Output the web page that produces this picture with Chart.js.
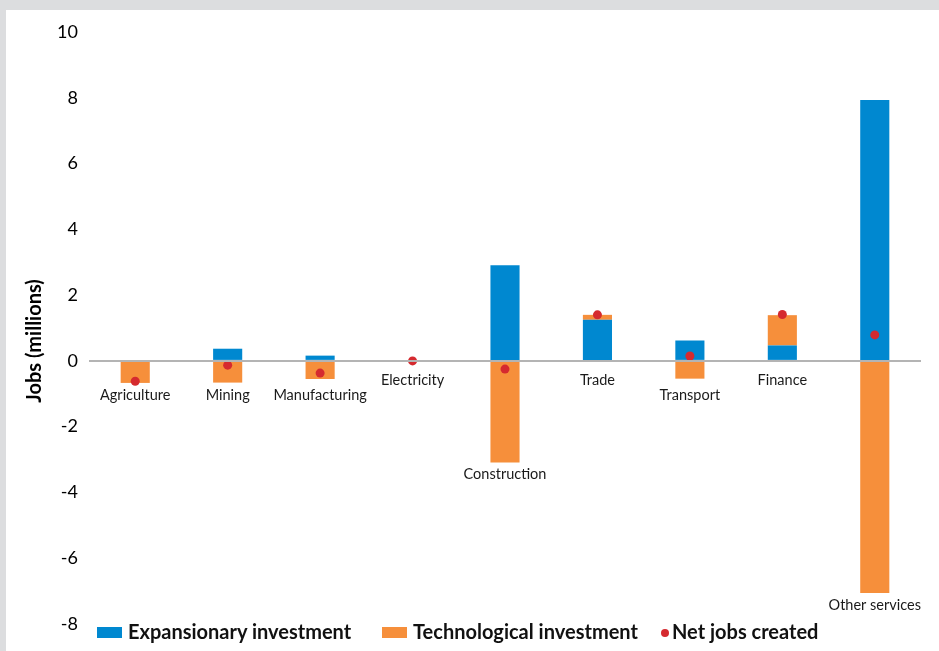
<!DOCTYPE html>
<html><head><meta charset="utf-8">
<script src="https://cdn.jsdelivr.net/npm/chart.js@4"></script>
<style>
html,body{margin:0;padding:0;background:#dcdddf;width:939px;height:651px;overflow:hidden;}
#frame{position:absolute;left:6px;top:10px;width:933px;height:641px;background:#fff;}
#c{position:absolute;left:0;top:0;}
.lg{position:absolute;top:609px;height:22px;line-height:22px;font:bold 20px Lato,sans-serif;color:#111;white-space:nowrap;}
.sw{display:inline-block;vertical-align:middle;margin-right:6px;position:relative;top:-1px;}
</style></head>
<body><div id="frame"><canvas id="c" width="933" height="641"></canvas><div id="legend"></div></div>
<script>
const categories = ['Agriculture','Mining','Manufacturing','Electricity','Construction','Trade','Transport','Finance','Other services'];
const expansionary = [0, 0.37, 0.16, 0, 2.91, 1.25, 0.62, 0.47, 7.93];
const technological = [-0.67, -0.66, -0.55, 0, -3.09, 0.15, -0.54, 0.92, -7.06];
const netJobs = [-0.62, -0.13, -0.37, 0, -0.25, 1.40, 0.15, 1.41, 0.79];
const yTicks = {min: -8, max: 10, step: 2};
const yTitle = 'Jobs (millions)';
const seriesNames = ['Expansionary investment', 'Technological investment', 'Net jobs created'];

const BLUE = '#0088d0', ORANGE = '#f68f3b', RED = '#d52a2f';

const catLabels = {
  id: 'catLabels',
  afterDatasetsDraw(chart) {
    const ctx = chart.ctx;
    const y = chart.scales.y;
    const zero = y.getPixelForValue(0);
    const m0 = chart.getDatasetMeta(0), m1 = chart.getDatasetMeta(1);
    ctx.save();
    ctx.font = '14.5px Lato, sans-serif';
    ctx.fillStyle = '#1a1a1a';
    ctx.textAlign = 'center';
    ctx.textBaseline = 'middle';
    categories.forEach((c, i) => {
      let bottom = zero, neg = false;
      [m0, m1].forEach(m => {
        const el = m.data[i];
        const b = Math.max(el.y, el.base);
        if (el.y > zero + 0.5 || el.base > zero + 0.5) neg = true;
        bottom = Math.max(bottom, b);
      });
      const ly = neg ? Math.max(zero + 34, bottom + 12) : zero + 19;
      const x = m0.data[i].x;
      ctx.fillText(c, x, ly);
    });
    // y-axis title, centred slightly below the plot middle as in the reference
    const ca = chart.chartArea;
    ctx.translate(29, (ca.top + ca.bottom) / 2 + 13);
    ctx.rotate(-Math.PI / 2);
    ctx.font = 'bold 20px Lato, sans-serif';
    ctx.fillStyle = '#000';
    ctx.fillText(yTitle, 0, 0);
    ctx.restore();
  }
};

const chart = new Chart(document.getElementById('c'), {
  data: {
    labels: categories,
    datasets: [
      {type: 'bar', label: seriesNames[0], data: expansionary, backgroundColor: BLUE, stack: 'inv', order: 1,
       categoryPercentage: 1, barPercentage: 0.315},
      {type: 'bar', label: seriesNames[1], data: technological, backgroundColor: ORANGE, stack: 'inv', order: 1,
       categoryPercentage: 1, barPercentage: 0.315},
      {type: 'line', label: seriesNames[2], data: netJobs, showLine: false, stack: 'net', order: 0,
       pointRadius: 4.5, pointBackgroundColor: RED, pointBorderWidth: 0, borderColor: RED}
    ]
  },
  options: {
    responsive: false,
    animation: false,
    layout: {padding: {left: 0, right: 18, top: 22, bottom: 27}},
    plugins: {legend: {display: false}, tooltip: {enabled: false}},
    scales: {
      x: {display: false, stacked: true, offset: true},
      y: {
        stacked: true,
        min: yTicks.min, max: yTicks.max,
        afterFit(s) { s.width = 83; },
        ticks: {stepSize: yTicks.step, padding: 11, color: '#000', font: {family: 'Lato, sans-serif', size: 18}},
        grid: {drawTicks: false, color: c => c.tick && c.tick.value === 0 ? '#b4b4b4' : 'rgba(0,0,0,0)', lineWidth: 2, z: 1},
        border: {display: false},
        title: {display: false}
      }
    }
  },
  plugins: [catLabels]
});

// HTML legend built from the chart's datasets
const legend = document.getElementById('legend');
const lefts = [91, 376, 655];
chart.data.datasets.forEach((ds, i) => {
  const d = document.createElement('div');
  d.className = 'lg';
  d.style.left = lefts[i] + 'px';
  const sw = document.createElement('span');
  sw.className = 'sw';
  if (ds.type === 'bar') {
    sw.style.width = '25px'; sw.style.height = '11px'; sw.style.background = ds.backgroundColor;
  } else {
    sw.style.width = '8px'; sw.style.height = '8px'; sw.style.borderRadius = '50%';
    sw.style.background = ds.pointBackgroundColor; sw.style.marginRight = '3px';
  }
  d.appendChild(sw);
  d.appendChild(document.createTextNode(ds.label));
  legend.appendChild(d);
});
</script>
</body></html>
